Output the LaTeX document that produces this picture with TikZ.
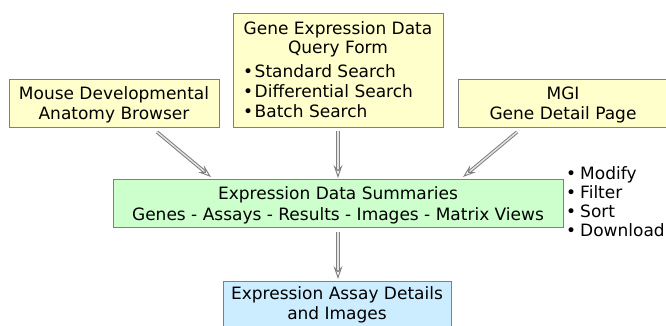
\documentclass[tikz,border=0pt]{standalone}
\usepackage{fontspec}
\setmainfont{DejaVu Sans}
\usetikzlibrary{arrows.meta}
\definecolor{boxline}{HTML}{7F7F7F}
\definecolor{yfill}{HTML}{FFFFCC}
\definecolor{gfill}{HTML}{CCFFCC}
\definecolor{bfill}{HTML}{CCECFF}
\newcommand{\lowr}{\rule{0pt}{17pt}}
\tikzset{
  box/.style={draw=boxline, line width=0.8pt, inner sep=0pt, align=center, font=\fontsize{17}{20}\selectfont},
  txt/.style={inner sep=0pt, font=\fontsize{17}{20}\selectfont},
  flow/.style={draw=gray, line width=1pt, double=gray!20, double distance=1.4pt,
    -{Stealth[open, length=13pt, width=9pt, inset=5pt, fill=white]}},
}
\begin{document}
\begin{tikzpicture}[x=1pt,y=-1pt]
\useasboundingbox (0,0) rectangle (666,326);
\node[box, fill=yfill, minimum width=210, minimum height=48] (mouse) at (114,103) {\lowr Mouse Developmental\\Anatomy Browser};
\node[box, fill=yfill, minimum width=210, minimum height=114] (gene) at (338,70) {};
\node[txt, align=center, anchor=north, font=\fontsize{17}{19.5}\selectfont] (genetitle) at (338,21) {Gene Expression Data\\Query Form};
\node[txt, align=left, anchor=north west] (genelist) at (243,64) {\textbullet\hspace{1.5pt}Standard Search\\\textbullet\hspace{1.5pt}Differential Search\\\textbullet\hspace{1.5pt}Batch Search};
\node[box, fill=yfill, minimum width=210, minimum height=48] (mgi) at (563,103) {\lowr MGI\\Gene Detail Page};
\node[box, fill=gfill, minimum width=450, minimum height=48] (sum) at (338,203) {\rule{0pt}{18pt}Expression Data Summaries\\[1pt]Genes - Assays - Results - Images - Matrix Views};
\node[box, fill=bfill, minimum width=228, minimum height=50, anchor=north] (det) at (337,281) {};
\node[txt, align=center, anchor=north] (dettext) at (337,286) {Expression Assay Details\\and Images};
\node[txt, align=left, anchor=north west, font=\fontsize{17}{19}\selectfont] (ops) at (566,166) {\textbullet\hspace{4pt}Modify\\\textbullet\hspace{4pt}Filter\\\textbullet\hspace{4pt}Sort\\\textbullet\hspace{4pt}Download};
\coordinate (m1) at (157,132);
\coordinate (m2) at (211,177);
\coordinate (g1) at (338,131);
\coordinate (g2) at (338,178);
\coordinate (q1) at (517,132);
\coordinate (q2) at (463,177);
\coordinate (s1) at (338,232);
\coordinate (s2) at (338,279);
\draw[flow] (m1) -- (m2);
\draw[flow] (g1) -- (g2);
\draw[flow] (q1) -- (q2);
\draw[flow] (s1) -- (s2);
\end{tikzpicture}
\end{document}
